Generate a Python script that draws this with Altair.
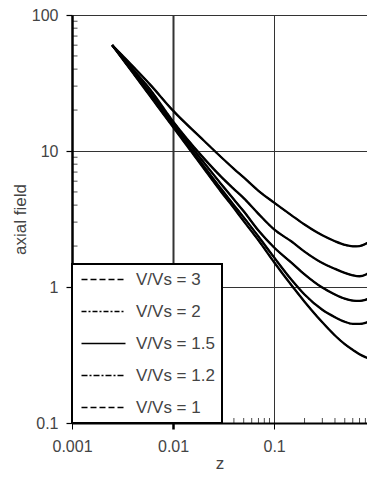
import altair as alt
import pandas as pd

# ---- data ----
z_values = [0.0025, 0.004, 0.006, 0.01, 0.02, 0.03, 0.04, 0.05, 0.07, 0.1,
            0.15, 0.2, 0.3, 0.4, 0.5, 0.6, 0.7, 0.8, 0.9, 1.0]
field_vvs_3 = [60, 42, 30.5, 19.8, 12, 9.0, 7.4, 6.4, 5.1, 4.17,
               3.35, 2.88, 2.4, 2.17, 2.04, 1.99, 2.0, 2.07, 2.19, 2.37]
field_vvs_2 = [60, 40, 28, 16.5, 8.9, 6.45, 5.25, 4.5, 3.45, 2.65,
               2.15, 1.82, 1.5, 1.36, 1.27, 1.22, 1.2, 1.23, 1.31, 1.45]
field_vvs_1_5 = [60, 39, 26.5, 16, 8.3, 5.7, 4.4, 3.6, 2.6, 1.95,
                 1.5, 1.24, 0.99, 0.88, 0.82, 0.795, 0.79, 0.805, 0.835, 0.88]
field_vvs_1_2 = [60, 38, 25.5, 15.3, 7.8, 5.25, 4.0, 3.25, 2.35, 1.65,
                 1.12, 0.88, 0.68, 0.6, 0.555, 0.535, 0.535, 0.545, 0.57, 0.61]
field_vvs_1 = [60, 37.5, 25, 15, 7.5, 5.0, 3.8, 3.05, 2.2, 1.52,
               1.02, 0.78, 0.55, 0.44, 0.38, 0.345, 0.32, 0.305, 0.295, 0.286]

series_names = ["V/Vs = 3", "V/Vs = 2", "V/Vs = 1.5", "V/Vs = 1.2", "V/Vs = 1"]
series_values = [field_vvs_3, field_vvs_2, field_vvs_1_5, field_vvs_1_2, field_vvs_1]
series_dashes = [[6, 3], [5, 2, 2, 2], [1, 0], [6, 2, 2, 2], [6, 3]]

x_major = [0.001, 0.01, 0.1]
y_major = [0.1, 1, 10, 100]
x_minor = [0.002, 0.003, 0.004, 0.005, 0.006, 0.007, 0.008, 0.009,
           0.02, 0.03, 0.04, 0.05, 0.06, 0.07, 0.08, 0.09,
           0.2, 0.3, 0.4, 0.5, 0.6, 0.7, 0.8]
y_minor = [0.2, 0.3, 0.4, 0.5, 0.6, 0.7, 0.8, 0.9,
           2, 3, 4, 5, 6, 7, 8, 9,
           20, 30, 40, 50, 60, 70, 80, 90]

# ---- tables ----
rows = []
for name, vals in zip(series_names, series_values):
    for z, v in zip(z_values, vals):
        rows.append({"z": z, "field": v, "series": name})
df = pd.DataFrame(rows)

xminor_df = pd.DataFrame({"z": x_minor, "field": [y_major[0]] * len(x_minor)})
yminor_df = pd.DataFrame({"z": [x_major[0]] * len(y_minor), "field": y_minor})

TEXT = "#444444"
FONT = "Liberation Sans"

xscale = alt.Scale(type="log", domain=[0.001, 0.83], nice=False)
yscale = alt.Scale(type="log", domain=[0.1, 100], nice=False)

xaxis = alt.Axis(
    values=x_major, format=".3~f", title="z", labelFlush=False,
    grid=True, gridColor="#333333",
    gridWidth={"condition": {"test": "datum.value == 0.01", "value": 2}, "value": 1},
    tickWidth={"condition": {"test": "datum.value == 0.01", "value": 2.5}, "value": 1},
    tickSize=6, tickColor="black", domainColor="black", domainWidth=2,
    labelFontSize=16, labelColor=TEXT, labelPadding=9, labelFont=FONT,
    titleFontSize=17, titleColor=TEXT, titleFontWeight="normal", titlePadding=1, titleFont=FONT,
)
yaxis = alt.Axis(
    values=y_major, format=".3~f", title="axial field", labelFlush=False,
    grid=True, gridColor="#333333", gridWidth=1,
    tickSize=6, tickColor="black", tickWidth=1.2, domainColor="black", domainWidth=2.5,
    labelFontSize=16, labelColor=TEXT, labelPadding=8, labelFont=FONT,
    titleFontSize=17, titleColor=TEXT, titleFontWeight="normal", titlePadding=2, titleFont=FONT,
)

X = alt.X("z:Q", scale=xscale, axis=xaxis)
Y = alt.Y("field:Q", scale=yscale, axis=yaxis)

legend = alt.Legend(
    title=None, orient="bottom-left", offset=0,
    fillColor="white", strokeColor="black", padding=7,
    labelFont=FONT, labelFontSize=17, labelColor=TEXT,
    symbolType="M-4,0H4", symbolSize=121, symbolStrokeColor="black", symbolStrokeWidth=1.5,
    symbolOffset=16, labelOffset=24, rowPadding=14,
)

xminor_layer = alt.Chart(xminor_df).mark_tick(
    orient="vertical", size=5, thickness=1, color="black", yOffset=-2.5
).encode(x=X, y=Y)

yminor_layer = alt.Chart(yminor_df).mark_tick(
    orient="horizontal", size=5, thickness=1, color="black", xOffset=3
).encode(x=X, y=Y)

dash_layer = alt.Chart(df).mark_line(
    clip=True, color="black", strokeWidth=1.5, interpolate="monotone"
).encode(
    x=X, y=Y,
    strokeDash=alt.StrokeDash(
        "series:N", sort=series_names,
        scale=alt.Scale(domain=series_names, range=series_dashes),
        legend=legend,
    ),
)

solid_layer = alt.Chart(df).mark_line(
    clip=True, color="black", strokeWidth=2.3, interpolate="monotone"
).encode(x=X, y=Y, detail="series:N")

chart = (
    alt.layer(xminor_layer, yminor_layer, dash_layer, solid_layer)
    .properties(width=295, height=408,
                autosize=alt.AutoSizeParams(type="none"),
                padding={"left": 64, "top": 7, "right": 0, "bottom": 48})
    .configure(font=FONT)
    .configure_view(stroke=None)
    .configure_legend(strokeWidth=2)
)

chart.save("out.html", embed_options={"renderer": "svg", "actions": False})
